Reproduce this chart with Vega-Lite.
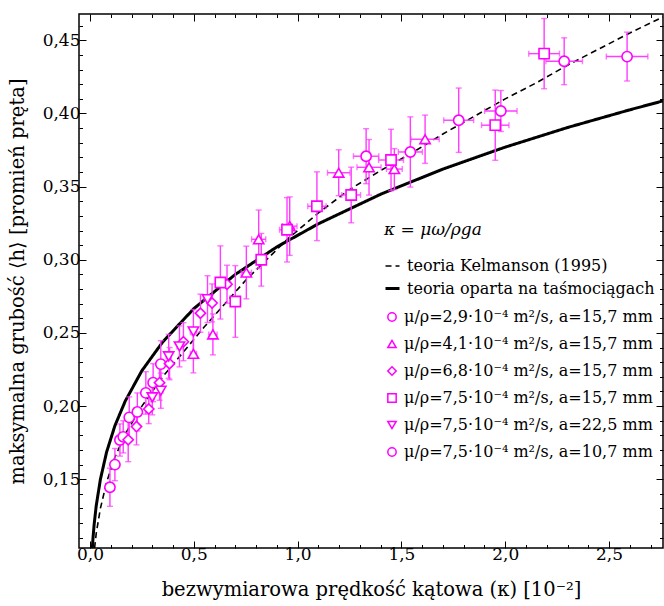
{
  "$schema": "https://vega.github.io/schema/vega-lite/v6.json",
  "width": 584,
  "height": 534,
  "autosize": "none",
  "padding": {"left": 79, "top": 14, "right": 1, "bottom": 58},
  "config": {
    "view": {"stroke": "#000000", "strokeWidth": 1.5},
    "font": "DejaVu Serif",
    "axis": {"grid": false, "domain": false, "tickColor": "#000000", "tickWidth": 1, "labelColor": "#000000", "titleColor": "#000000", "labelFont": "DejaVu Serif", "titleFont": "DejaVu Serif", "labelFontSize": 17, "titleFontSize": 19.5, "titleFontWeight": "normal"},
    "legend": {"labelFont": "DejaVu Serif", "titleFont": "DejaVu Serif", "labelFontSize": 16, "titleFontSize": 17, "titleFontWeight": "normal", "labelColor": "#000000", "titleColor": "#000000", "padding": 0, "labelLimit": 400}
  },
  "datasets": {
    "curves": [
      {"teoria": "teoria Kelmanson (1995)", "k": 0.022, "h": 0.103},
      {"teoria": "teoria Kelmanson (1995)", "k": 0.03, "h": 0.113},
      {"teoria": "teoria Kelmanson (1995)", "k": 0.05, "h": 0.130},
      {"teoria": "teoria Kelmanson (1995)", "k": 0.08, "h": 0.148},
      {"teoria": "teoria Kelmanson (1995)", "k": 0.12, "h": 0.165},
      {"teoria": "teoria Kelmanson (1995)", "k": 0.17, "h": 0.181},
      {"teoria": "teoria Kelmanson (1995)", "k": 0.25, "h": 0.200},
      {"teoria": "teoria Kelmanson (1995)", "k": 0.35, "h": 0.220},
      {"teoria": "teoria Kelmanson (1995)", "k": 0.45, "h": 0.237},
      {"teoria": "teoria Kelmanson (1995)", "k": 0.55, "h": 0.254},
      {"teoria": "teoria Kelmanson (1995)", "k": 0.65, "h": 0.270},
      {"teoria": "teoria Kelmanson (1995)", "k": 0.75, "h": 0.286},
      {"teoria": "teoria Kelmanson (1995)", "k": 0.85, "h": 0.300},
      {"teoria": "teoria Kelmanson (1995)", "k": 0.95, "h": 0.314},
      {"teoria": "teoria Kelmanson (1995)", "k": 1.1, "h": 0.332},
      {"teoria": "teoria Kelmanson (1995)", "k": 1.25, "h": 0.348},
      {"teoria": "teoria Kelmanson (1995)", "k": 1.4, "h": 0.361},
      {"teoria": "teoria Kelmanson (1995)", "k": 1.55, "h": 0.373},
      {"teoria": "teoria Kelmanson (1995)", "k": 1.7, "h": 0.386},
      {"teoria": "teoria Kelmanson (1995)", "k": 1.85, "h": 0.398},
      {"teoria": "teoria Kelmanson (1995)", "k": 2.0, "h": 0.410},
      {"teoria": "teoria Kelmanson (1995)", "k": 2.15, "h": 0.421},
      {"teoria": "teoria Kelmanson (1995)", "k": 2.3, "h": 0.433},
      {"teoria": "teoria Kelmanson (1995)", "k": 2.45, "h": 0.444},
      {"teoria": "teoria Kelmanson (1995)", "k": 2.6, "h": 0.455},
      {"teoria": "teoria Kelmanson (1995)", "k": 2.76, "h": 0.466},
      {"teoria": "teoria oparta na taśmociągach", "k": 0.0112, "h": 0.103},
      {"teoria": "teoria oparta na taśmociągach", "k": 0.015, "h": 0.1108},
      {"teoria": "teoria oparta na taśmociągach", "k": 0.02, "h": 0.1192},
      {"teoria": "teoria oparta na taśmociągach", "k": 0.03, "h": 0.1319},
      {"teoria": "teoria oparta na taśmociągach", "k": 0.05, "h": 0.1499},
      {"teoria": "teoria oparta na taśmociągach", "k": 0.08, "h": 0.1686},
      {"teoria": "teoria oparta na taśmociągach", "k": 0.12, "h": 0.1866},
      {"teoria": "teoria oparta na taśmociągach", "k": 0.17, "h": 0.2035},
      {"teoria": "teoria oparta na taśmociągach", "k": 0.25, "h": 0.2242},
      {"teoria": "teoria oparta na taśmociągach", "k": 0.35, "h": 0.2438},
      {"teoria": "teoria oparta na taśmociągach", "k": 0.5, "h": 0.2666},
      {"teoria": "teoria oparta na taśmociągach", "k": 0.7, "h": 0.2900},
      {"teoria": "teoria oparta na taśmociągach", "k": 0.9, "h": 0.3088},
      {"teoria": "teoria oparta na taśmociągach", "k": 1.1, "h": 0.3246},
      {"teoria": "teoria oparta na taśmociągach", "k": 1.4, "h": 0.3448},
      {"teoria": "teoria oparta na taśmociągach", "k": 1.7, "h": 0.3620},
      {"teoria": "teoria oparta na taśmociągach", "k": 2.0, "h": 0.3770},
      {"teoria": "teoria oparta na taśmociągach", "k": 2.3, "h": 0.3904},
      {"teoria": "teoria oparta na taśmociągach", "k": 2.6, "h": 0.4025},
      {"teoria": "teoria oparta na taśmociągach", "k": 2.76, "h": 0.4086}
    ],
    "pts": [
      {"s": "μ/ρ=2,9·10⁻⁴ m²/s, a=15,7 mm", "k": 0.096, "h": 0.1445, "ke": 0.01, "he": 0.013},
      {"s": "μ/ρ=2,9·10⁻⁴ m²/s, a=15,7 mm", "k": 0.120, "h": 0.160, "ke": 0.01, "he": 0.011},
      {"s": "μ/ρ=2,9·10⁻⁴ m²/s, a=15,7 mm", "k": 0.144, "h": 0.1768, "ke": 0.01, "he": 0.011},
      {"s": "μ/ρ=2,9·10⁻⁴ m²/s, a=15,7 mm", "k": 0.160, "h": 0.179, "ke": 0.01, "he": 0.011},
      {"s": "μ/ρ=2,9·10⁻⁴ m²/s, a=15,7 mm", "k": 0.189, "h": 0.1923, "ke": 0.01, "he": 0.014},
      {"s": "μ/ρ=2,9·10⁻⁴ m²/s, a=15,7 mm", "k": 0.228, "h": 0.196, "ke": 0.01, "he": 0.013},
      {"s": "μ/ρ=2,9·10⁻⁴ m²/s, a=15,7 mm", "k": 0.269, "h": 0.209, "ke": 0.01, "he": 0.0145},
      {"s": "μ/ρ=2,9·10⁻⁴ m²/s, a=15,7 mm", "k": 0.304, "h": 0.216, "ke": 0.01, "he": 0.013},
      {"s": "μ/ρ=2,9·10⁻⁴ m²/s, a=15,7 mm", "k": 0.341, "h": 0.2287, "ke": 0.012, "he": 0.016},
      {"s": "μ/ρ=4,1·10⁻⁴ m²/s, a=15,7 mm", "k": 0.498, "h": 0.2357, "ke": 0.015, "he": 0.013},
      {"s": "μ/ρ=4,1·10⁻⁴ m²/s, a=15,7 mm", "k": 0.592, "h": 0.249, "ke": 0.02, "he": 0.014},
      {"s": "μ/ρ=4,1·10⁻⁴ m²/s, a=15,7 mm", "k": 0.753, "h": 0.2913, "ke": 0.025, "he": 0.018},
      {"s": "μ/ρ=4,1·10⁻⁴ m²/s, a=15,7 mm", "k": 0.8125, "h": 0.314, "ke": 0.034, "he": 0.020},
      {"s": "μ/ρ=4,1·10⁻⁴ m²/s, a=15,7 mm", "k": 0.962, "h": 0.323, "ke": 0.035, "he": 0.020},
      {"s": "μ/ρ=4,1·10⁻⁴ m²/s, a=15,7 mm", "k": 1.198, "h": 0.3595, "ke": 0.054, "he": 0.0157},
      {"s": "μ/ρ=4,1·10⁻⁴ m²/s, a=15,7 mm", "k": 1.344, "h": 0.3632, "ke": 0.058, "he": 0.019},
      {"s": "μ/ρ=4,1·10⁻⁴ m²/s, a=15,7 mm", "k": 1.466, "h": 0.362, "ke": 0.038, "he": 0.014},
      {"s": "μ/ρ=4,1·10⁻⁴ m²/s, a=15,7 mm", "k": 1.614, "h": 0.3824, "ke": 0.068, "he": 0.0165},
      {"s": "μ/ρ=6,8·10⁻⁴ m²/s, a=15,7 mm", "k": 0.184, "h": 0.177, "ke": 0.01, "he": 0.015},
      {"s": "μ/ρ=6,8·10⁻⁴ m²/s, a=15,7 mm", "k": 0.224, "h": 0.186, "ke": 0.01, "he": 0.0125},
      {"s": "μ/ρ=6,8·10⁻⁴ m²/s, a=15,7 mm", "k": 0.283, "h": 0.198, "ke": 0.01, "he": 0.01},
      {"s": "μ/ρ=6,8·10⁻⁴ m²/s, a=15,7 mm", "k": 0.335, "h": 0.216, "ke": 0.01, "he": 0.012},
      {"s": "μ/ρ=6,8·10⁻⁴ m²/s, a=15,7 mm", "k": 0.383, "h": 0.229, "ke": 0.012, "he": 0.011},
      {"s": "μ/ρ=6,8·10⁻⁴ m²/s, a=15,7 mm", "k": 0.450, "h": 0.244, "ke": 0.012, "he": 0.013},
      {"s": "μ/ρ=6,8·10⁻⁴ m²/s, a=15,7 mm", "k": 0.532, "h": 0.2635, "ke": 0.015, "he": 0.013},
      {"s": "μ/ρ=6,8·10⁻⁴ m²/s, a=15,7 mm", "k": 0.588, "h": 0.2705, "ke": 0.015, "he": 0.013},
      {"s": "μ/ρ=6,8·10⁻⁴ m²/s, a=15,7 mm", "k": 0.660, "h": 0.2833, "ke": 0.018, "he": 0.013},
      {"s": "μ/ρ=7,5·10⁻⁴ m²/s, a=15,7 mm", "k": 0.628, "h": 0.2845, "ke": 0.02, "he": 0.025},
      {"s": "μ/ρ=7,5·10⁻⁴ m²/s, a=15,7 mm", "k": 0.700, "h": 0.2715, "ke": 0.02, "he": 0.0245},
      {"s": "μ/ρ=7,5·10⁻⁴ m²/s, a=15,7 mm", "k": 0.825, "h": 0.300, "ke": 0.02, "he": 0.018},
      {"s": "μ/ρ=7,5·10⁻⁴ m²/s, a=15,7 mm", "k": 0.949, "h": 0.3205, "ke": 0.036, "he": 0.022},
      {"s": "μ/ρ=7,5·10⁻⁴ m²/s, a=15,7 mm", "k": 1.093, "h": 0.3366, "ke": 0.044, "he": 0.0235},
      {"s": "μ/ρ=7,5·10⁻⁴ m²/s, a=15,7 mm", "k": 1.258, "h": 0.3443, "ke": 0.045, "he": 0.019},
      {"s": "μ/ρ=7,5·10⁻⁴ m²/s, a=15,7 mm", "k": 1.450, "h": 0.3682, "ke": 0.06, "he": 0.021},
      {"s": "μ/ρ=7,5·10⁻⁴ m²/s, a=15,7 mm", "k": 1.952, "h": 0.392, "ke": 0.066, "he": 0.024},
      {"s": "μ/ρ=7,5·10⁻⁴ m²/s, a=15,7 mm", "k": 2.1875, "h": 0.4409, "ke": 0.074, "he": 0.024},
      {"s": "μ/ρ=7,5·10⁻⁴ m²/s, a=22,5 mm", "k": 0.300, "h": 0.206, "ke": 0.01, "he": 0.012},
      {"s": "μ/ρ=7,5·10⁻⁴ m²/s, a=22,5 mm", "k": 0.341, "h": 0.2105, "ke": 0.01, "he": 0.012},
      {"s": "μ/ρ=7,5·10⁻⁴ m²/s, a=22,5 mm", "k": 0.379, "h": 0.234, "ke": 0.012, "he": 0.015},
      {"s": "μ/ρ=7,5·10⁻⁴ m²/s, a=22,5 mm", "k": 0.431, "h": 0.2408, "ke": 0.012, "he": 0.014},
      {"s": "μ/ρ=7,5·10⁻⁴ m²/s, a=22,5 mm", "k": 0.498, "h": 0.251, "ke": 0.015, "he": 0.015},
      {"s": "μ/ρ=7,5·10⁻⁴ m²/s, a=22,5 mm", "k": 0.566, "h": 0.2731, "ke": 0.017, "he": 0.016},
      {"s": "μ/ρ=7,5·10⁻⁴ m²/s, a=10,7 mm", "k": 1.330, "h": 0.3708, "ke": 0.061, "he": 0.0188},
      {"s": "μ/ρ=7,5·10⁻⁴ m²/s, a=10,7 mm", "k": 1.543, "h": 0.3737, "ke": 0.058, "he": 0.024},
      {"s": "μ/ρ=7,5·10⁻⁴ m²/s, a=10,7 mm", "k": 1.776, "h": 0.3954, "ke": 0.072, "he": 0.022},
      {"s": "μ/ρ=7,5·10⁻⁴ m²/s, a=10,7 mm", "k": 1.979, "h": 0.4017, "ke": 0.078, "he": 0.014},
      {"s": "μ/ρ=7,5·10⁻⁴ m²/s, a=10,7 mm", "k": 2.284, "h": 0.4357, "ke": 0.088, "he": 0.016},
      {"s": "μ/ρ=7,5·10⁻⁴ m²/s, a=10,7 mm", "k": 2.587, "h": 0.4389, "ke": 0.1, "he": 0.0167}
    ]
  },
  "layer": [
    {
      "data": {"name": "curves"},
      "mark": {"type": "line", "clip": true, "color": "#000000"},
      "encoding": {
        "x": {"field": "k", "type": "quantitative", "scale": {"domain": [-0.053, 2.76], "nice": false, "zero": false},
          "axis": {"orient": "bottom", "values": [0,0.1,0.2,0.3,0.4,0.5,0.6,0.7,0.8,0.9,1,1.1,1.2,1.3,1.4,1.5,1.6,1.7,1.8,1.9,2,2.1,2.2,2.3,2.4,2.5,2.6,2.7],
            "labelExpr": "abs(round(datum.value*10)) % 5 == 0 ? replace(format(datum.value, '.1f'), '.', ',') : ''",
            "tickSize": {"condition": {"test": "abs(round(datum.value*10)) % 5 == 0", "value": -7}, "value": -3.5},
            "labelPadding": 5, "labelFlush": false, "labelOverlap": false,
            "title": "bezwymiarowa prędkość kątowa (κ) [10⁻²]", "titlePadding": 15}},
        "y": {"field": "h", "type": "quantitative", "scale": {"domain": [0.103, 0.468], "nice": false, "zero": false},
          "axis": {"orient": "left", "values": [0.11,0.12,0.13,0.14,0.15,0.16,0.17,0.18,0.19,0.2,0.21,0.22,0.23,0.24,0.25,0.26,0.27,0.28,0.29,0.3,0.31,0.32,0.33,0.34,0.35,0.36,0.37,0.38,0.39,0.4,0.41,0.42,0.43,0.44,0.45,0.46],
            "labelExpr": "abs(round(datum.value*100)) % 5 == 0 ? replace(format(datum.value, '.2f'), '.', ',') : ''",
            "tickSize": {"condition": {"test": "abs(round(datum.value*100)) % 5 == 0", "value": -7}, "value": -3.5},
            "labelPadding": 6, "labelFlush": false, "labelOverlap": false,
            "title": "maksymalna grubość ⟨h⟩ [promień pręta]", "titlePadding": 15}},
        "strokeDash": {"field": "teoria", "type": "nominal",
          "scale": {"domain": ["teoria Kelmanson (1995)", "teoria oparta na taśmociągach"], "range": [[6, 4], [1, 0]]},
          "legend": {"title": "κ = μω/ρga", "orient": "none", "legendX": 305, "legendY": 208, "symbolType": "stroke", "symbolSize": 196, "symbolStrokeColor": "#000000", "titlePadding": 19, "rowPadding": 6, "labelOffset": 6, "titleFontStyle": "italic"}},
        "strokeWidth": {"field": "teoria", "type": "nominal",
          "scale": {"domain": ["teoria Kelmanson (1995)", "teoria oparta na taśmociągach"], "range": [1.6, 3]},
          "legend": {"title": "κ = μω/ρga", "orient": "none", "legendX": 305, "legendY": 208, "symbolType": "stroke", "symbolSize": 196, "symbolStrokeColor": "#000000", "titlePadding": 19, "rowPadding": 6, "labelOffset": 6, "titleFontStyle": "italic"}}
      }
    },
    {
      "data": {"name": "pts"},
      "mark": {"type": "errorbar", "ticks": {"size": 6, "thickness": 1.4, "color": "#ff3cff"}, "rule": {"strokeWidth": 1.4, "color": "#ff3cff"}},
      "encoding": {
        "x": {"field": "k", "type": "quantitative", "axis": null},
        "xError": {"field": "ke"},
        "y": {"field": "h", "type": "quantitative", "axis": null}
      }
    },
    {
      "data": {"name": "pts"},
      "mark": {"type": "errorbar", "ticks": {"size": 6, "thickness": 1.4, "color": "#ff3cff"}, "rule": {"strokeWidth": 1.4, "color": "#ff3cff"}},
      "encoding": {
        "y": {"field": "h", "type": "quantitative", "axis": null},
        "yError": {"field": "he"},
        "x": {"field": "k", "type": "quantitative", "axis": null}
      }
    },
    {
      "data": {"name": "pts"},
      "mark": {"type": "point", "filled": false, "fill": "#ffffff", "fillOpacity": 1, "stroke": "#ff00ff", "strokeWidth": 1.6, "size": 105, "opacity": 1},
      "encoding": {
        "x": {"field": "k", "type": "quantitative",
          "axis": {"orient": "top", "values": [0,0.1,0.2,0.3,0.4,0.5,0.6,0.7,0.8,0.9,1,1.1,1.2,1.3,1.4,1.5,1.6,1.7,1.8,1.9,2,2.1,2.2,2.3,2.4,2.5,2.6,2.7],
            "labels": false, "title": null,
            "tickSize": {"condition": {"test": "abs(round(datum.value*10)) % 5 == 0", "value": -7}, "value": -3.5}}},
        "y": {"field": "h", "type": "quantitative",
          "axis": {"orient": "right", "values": [0.11,0.12,0.13,0.14,0.15,0.16,0.17,0.18,0.19,0.2,0.21,0.22,0.23,0.24,0.25,0.26,0.27,0.28,0.29,0.3,0.31,0.32,0.33,0.34,0.35,0.36,0.37,0.38,0.39,0.4,0.41,0.42,0.43,0.44,0.45,0.46],
            "labels": false, "title": null,
            "tickSize": {"condition": {"test": "abs(round(datum.value*100)) % 5 == 0", "value": -7}, "value": -3.5}}},
        "shape": {"field": "s", "type": "nominal",
          "scale": {"domain": ["μ/ρ=2,9·10⁻⁴ m²/s, a=15,7 mm", "μ/ρ=4,1·10⁻⁴ m²/s, a=15,7 mm", "μ/ρ=6,8·10⁻⁴ m²/s, a=15,7 mm", "μ/ρ=7,5·10⁻⁴ m²/s, a=15,7 mm", "μ/ρ=7,5·10⁻⁴ m²/s, a=22,5 mm", "μ/ρ=7,5·10⁻⁴ m²/s, a=10,7 mm"],
            "range": ["circle", "triangle-up", "diamond", "square", "triangle-down", "circle"]},
          "legend": {"title": null, "orient": "none", "legendX": 305, "legendY": 295, "symbolSize": 70, "rowPadding": 11, "labelOffset": 4,
            "encode": {"symbols": {"update": {"stroke": {"value": "#ff00ff"}, "fill": {"value": "#ffffff"}, "strokeWidth": {"value": 1.8}, "opacity": {"value": 1}, "fillOpacity": {"value": 1}, "strokeOpacity": {"value": 1}}}}}}
      }
    }
  ],
  "resolve": {"axis": {"x": "independent", "y": "independent"}, "legend": {"shape": "independent"}}
}
